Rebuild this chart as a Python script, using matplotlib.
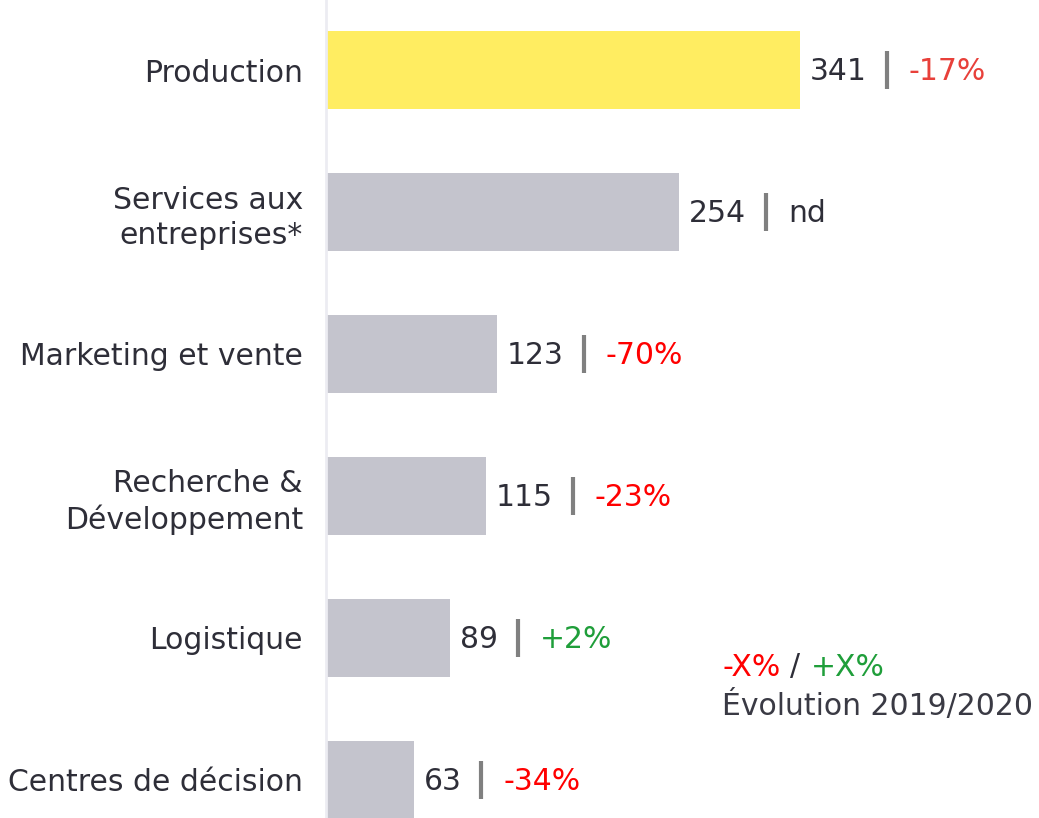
import matplotlib

matplotlib.use("Agg")

import matplotlib.pyplot as plt
from matplotlib.transforms import offset_copy

categories = [
    "Production",
    "Services aux\nentreprises*",
    "Marketing et vente",
    "Recherche &\nDéveloppement",
    "Logistique",
    "Centres de décision",
]
values = [341, 254, 123, 115, 89, 63]
changes = ["-17%", "nd", "-70%", "-23%", "+2%", "-34%"]

TEXT = "#2e2e38"
RED = "#ff0000"
GREEN = "#1f9e3a"
YELLOW = "#ffed61"
GREY = "#c4c4cd"
FS = 21.5


def change_color(s, first=False):
    if s.startswith("-"):
        return "#e8403a" if first else RED
    if s.startswith("+"):
        return GREEN
    return TEXT


plt.rcParams["font.family"] = ["DejaVu Sans"]

fig = plt.figure(figsize=(10.39, 8.18), dpi=100)
ax = fig.add_axes([326 / 1039, 0, 1 - 326 / 1039, 1])

ypos = list(range(len(categories)))
colors = [YELLOW] + [GREY] * (len(categories) - 1)
ax.barh(ypos, values, height=0.55, color=colors, zorder=2)

ax.set_xlim(0, 513)
ax.set_ylim(5.268, -0.493)
for side in ["top", "right", "bottom"]:
    ax.spines[side].set_visible(False)
ax.spines["left"].set_color("#ececf2")
ax.spines["left"].set_linewidth(2)
ax.set_xticks([])
ax.set_yticks(ypos)
ax.set_yticklabels(categories, fontsize=FS, color=TEXT, linespacing=1.25)
ax.tick_params(axis="y", length=0, pad=16.5)
for lbl in ax.get_yticklabels():
    lbl.set_horizontalalignment("right")

num_texts = []
for y, v in zip(ypos, values):
    t = ax.text(v, y + 0.01, str(v), fontsize=FS, color=TEXT, va="center", ha="left",
                transform=offset_copy(ax.transData, fig=fig, x=10, y=0, units="dots"))
    num_texts.append(t)

fig.canvas.draw()
renderer = fig.canvas.get_renderer()
inv = ax.transData.inverted()
for i, (y, t, ch) in enumerate(zip(ypos, num_texts, changes)):
    bb = t.get_window_extent(renderer)
    x_sep = inv.transform((bb.x1 + 20, 0))[0]
    ax.plot([x_sep, x_sep], [y - 0.135, y + 0.135], color="#808080", lw=3,
            solid_capstyle="butt", zorder=3)
    ax.text(x_sep, y + 0.01, ch, fontsize=FS, color=change_color(ch, i == 0),
            va="center", ha="left",
            transform=offset_copy(ax.transData, fig=fig, x=22, y=0, units="dots"))

# legend note: "-X% / +X%" then "Évolution 2019/2020"
legend_parts = [("-X%", RED), ("/", TEXT), ("+X%", GREEN)]
x_px = 722
for s, c in legend_parts:
    t = fig.text(x_px / 1039, 1 - 667 / 818, s, color=c, fontsize=FS, va="center", ha="left")
    fig.canvas.draw()
    x_px = t.get_window_extent(renderer).x1 + 10
fig.text(722 / 1039, 1 - 706 / 818, "Évolution 2019/2020", color="#3a3a44", fontsize=FS,
         va="center", ha="left")

fig.savefig("out.png", dpi=100)
plt.close(fig)
